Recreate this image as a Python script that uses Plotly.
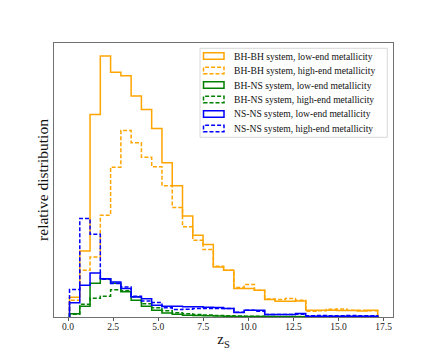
import numpy as np
import plotly.graph_objects as go

# ---------------- data ----------------
BIN_START = 0.08
BIN_END = 17.17
N_BINS = 30

labels = [
    "BH-BH system, low-end metallicity",
    "BH-BH system, high-end metallicity",
    "BH-NS system, low-end metallicity",
    "BH-NS system, high-end metallicity",
    "NS-NS system, low-end metallicity",
    "NS-NS system, high-end metallicity",
]

bhbh_low = [19.7, 66.0, 202.4, 260.7, 244.4, 241.0, 220.7, 207.4, 188.2, 154.2,
            131.0, 101.0, 81.7, 72.4, 50.0, 46.7, 28.4, 28.4, 26.7, 17.4,
            15.7, 15.7, 16.0, 6.7, 6.7, 6.7, 6.4, 6.4, 6.0, 6.7]
bhbh_high = [16.7, 46.7, 60.0, 101.7, 149.7, 186.2, 174.0, 159.5, 150.0, 131.0,
             109.4, 90.2, 76.7, 67.4, 50.7, 46.7, 29.4, 32.4, 26.7, 18.0,
             17.4, 18.4, 16.7, 5.7, 6.2, 7.7, 8.0, 6.7, 6.7, 6.2]
bhns_low = [3.2, 10.7, 33.7, 38.2, 33.7, 25.2, 16.7, 10.7, 6.7, 4.0,
            2.7, 1.7, 1.4, 1.2, 0.9, 0.7, 0.5, 0.5, 0.4, 0.4,
            0.3, 0.3, 0.2, 0.2, 0.2, 0.1, 0.1, 0.1, 0.1, 0.1]
bhns_high = [2.7, 12.7, 18.7, 20.7, 27.2, 26.2, 20.2, 13.2, 9.2, 6.2,
             4.2, 3.2, 2.4, 1.9, 1.5, 1.2, 0.9, 0.8, 0.7, 0.6,
             0.5, 0.5, 0.4, 0.3, 0.3, 0.2, 0.2, 0.2, 0.1, 0.1]
nsns_low = [14.2, 31.7, 44.0, 38.2, 35.0, 28.4, 20.0, 18.2, 11.7, 10.7,
            10.7, 10.2, 10.2, 9.7, 9.4, 8.4, 4.4, 6.7, 6.7, 2.4,
            2.4, 2.4, 3.4, 0.7, 0.7, 0.7, 0.7, 0.7, 0.7, 0.7]
nsns_high = [27.4, 98.4, 82.7, 37.7, 33.4, 30.0, 20.7, 16.0, 14.4, 9.2,
             7.4, 7.7, 8.4, 8.4, 8.4, 8.4, 4.7, 6.7, 5.7, 2.4,
             2.4, 2.4, 2.7, 1.2, 1.4, 1.2, 1.2, 1.4, 1.2, 1.2]

series = [bhbh_low, bhbh_high, bhns_low, bhns_high, nsns_low, nsns_high]
colors = ["orange", "orange", "green", "green", "blue", "blue"]
dashes = ["solid", "4px,2px", "solid", "4px,2px", "solid", "4px,2px"]

x_ticks = [0.0, 2.5, 5.0, 7.5, 10.0, 12.5, 15.0, 17.5]
x_tick_text = ["0.0", "2.5", "5.0", "7.5", "10.0", "12.5", "15.0", "17.5"]

# ---------------- figure ----------------
# the page body has an 8px margin; the figure is sized/offset to compensate
OFF = 8
W, H = 436 - OFF, 363 - OFF
L, R, T, B = 54 - OFF, 43, 43 - OFF, 46
PW, PH = W - L - R, H - T - B

edges = np.linspace(BIN_START, BIN_END, N_BINS + 1)
SCALE = 100.0

fig = go.Figure()
for name, vals, col, dash in zip(labels, series, colors, dashes):
    v = np.asarray(vals) / SCALE
    xs = np.concatenate([[edges[0]], edges[:-1], [edges[-1]]])
    ys = np.concatenate([[0.0], v, [0.0]])
    fig.add_trace(go.Scatter(
        x=xs, y=ys, mode="lines", name=name, showlegend=False,
        line=dict(color=col, width=1.5, dash=dash, shape="hv"),
        hoverinfo="skip",
    ))

ymax = max(max(s) for s in series) / SCALE
FONT = "Liberation Serif, Times New Roman, serif"

# helpers: absolute window pixel -> paper coords
def px_x(px):
    return (px - OFF - L) / PW

def px_y(py):
    return (H - B - (py - OFF)) / PH

shapes = []
annotations = []
lx0, lx1, ly0, ly1 = 200.0, 387.3, 48.3, 137.3
shapes.append(dict(type="rect", xref="paper", yref="paper",
                   x0=px_x(lx0), x1=px_x(lx1), y0=px_y(ly1), y1=px_y(ly0),
                   line=dict(color="#d8d8d8", width=1),
                   fillcolor="rgba(255,255,255,0.8)", layer="above"))
for i, (name, col, dash) in enumerate(zip(labels, colors, dashes)):
    cy = 56.0 + 14.5 * i
    shapes.append(dict(type="rect", xref="paper", yref="paper",
                       x0=px_x(203.5), x1=px_x(224.0),
                       y0=px_y(cy + 3.3), y1=px_y(cy - 3.3),
                       line=dict(color=col, width=1.5, dash=dash),
                       fillcolor="rgba(0,0,0,0)", layer="above"))
    annotations.append(dict(xref="paper", yref="paper", x=px_x(232.0), y=px_y(cy),
                            xanchor="left", yanchor="middle", showarrow=False,
                            text=name, font=dict(family=FONT, size=9.6, color="#111")))

fig.update_layout(
    width=W, height=H,
    margin=dict(l=L, r=R, t=T, b=B, pad=0),
    paper_bgcolor="white", plot_bgcolor="white",
    shapes=shapes, annotations=annotations,
    showlegend=False,
    xaxis=dict(range=[-0.78, 18.02], tickvals=x_ticks, ticktext=x_tick_text,
               ticks="outside", ticklen=3, tickwidth=0.8, tickcolor="#555",
               ticklabelstandoff=-2,
               showline=True, mirror=True, linecolor="#707070", linewidth=1,
               showgrid=False, zeroline=False,
               tickfont=dict(family=FONT, size=9.5, color="#222"),
               title=dict(text="z<sub>S</sub>", standoff=2,
                          font=dict(family=FONT, size=15, color="#111"))),
    yaxis=dict(range=[0, 1.05 * ymax], showticklabels=False, ticks="",
               showline=True, mirror=True, linecolor="#707070", linewidth=1,
               showgrid=False, zeroline=False,
               title=dict(text="relative distribution", standoff=0,
                          font=dict(family=FONT, size=15.5, color="#111"))),
)

fig.write_html("out.html")
